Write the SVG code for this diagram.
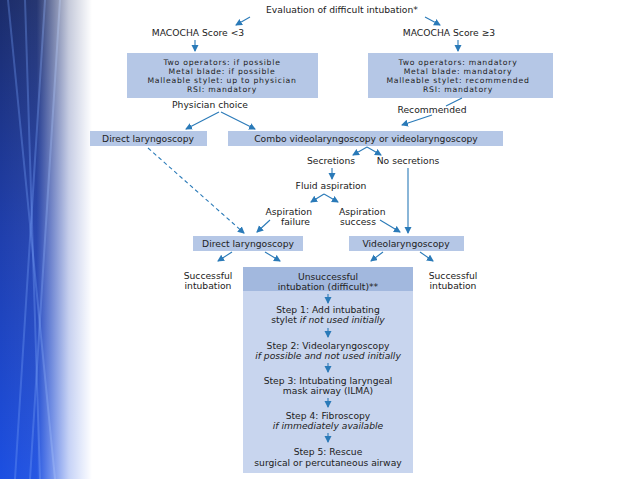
<svg xmlns="http://www.w3.org/2000/svg" width="638" height="479" viewBox="0 0 638 479">
<defs>
<linearGradient id="bgv" x1="0" y1="0" x2="0" y2="1">
<stop offset="0" stop-color="#1b2c6a"/>
<stop offset="0.5" stop-color="#1f3fae"/>
<stop offset="1" stop-color="#1c4fe2"/>
</linearGradient>
<linearGradient id="fade" x1="0" y1="0" x2="1" y2="0">
<stop offset="0" stop-color="#fff" stop-opacity="0"/>
<stop offset="0.4" stop-color="#fff" stop-opacity="0.05"/>
<stop offset="0.75" stop-color="#fff" stop-opacity="0.75"/>
<stop offset="1" stop-color="#fff" stop-opacity="1"/>
</linearGradient>
<marker id="ah" markerUnits="userSpaceOnUse" markerWidth="8" markerHeight="8" refX="6" refY="3.5" orient="auto">
<path d="M0,0 L7,3.5 L0,7 z" fill="#2a7ab8"/>
</marker>
</defs>
<style>
text{font-family:"DejaVu Sans","Liberation Sans",sans-serif;font-size:9.2px;fill:#222;text-anchor:middle}
.bt{font-size:7.7px;letter-spacing:0.75px}
.it{font-style:italic}
.box{fill:#b5c7e6}
.hdr{fill:#a2b8de}
.body{fill:#c8d5ee}
.c{stroke:#2a7ab8;stroke-width:1.1;fill:none;marker-end:url(#ah)}
.d{stroke-dasharray:4,3}
.ln{stroke:#2a7ab8;stroke-width:1.1;fill:none}
</style>
<rect width="638" height="479" fill="#fff"/>
<g id="background">
<rect x="0" y="0" width="92" height="479" fill="url(#bgv)"/>
<g stroke="#6f9cf5" stroke-opacity="0.35" stroke-width="2" fill="none">
<path d="M8,0 L55,479"/>
<path d="M45,0 L15,479"/>
<path d="M25,0 L40,479"/>
<path d="M60,0 L30,479"/>
</g>
<rect x="0" y="0" width="92" height="479" fill="url(#fade)"/>
</g>
<g id="title"><text x="342" y="13">Evaluation of difficult intubation*</text></g>
<g id="mac-lt3"><text x="198" y="36">MACOCHA Score &lt;3</text></g>
<g id="mac-ge3"><text x="449" y="36">MACOCHA Score ≥3</text></g>
<g id="box-left">
<rect class="box" x="127" y="53" width="191" height="45"/>
<text class="bt" x="222" y="65">Two operators: if possible</text>
<text class="bt" x="222" y="74">Metal blade: if possible</text>
<text class="bt" x="222" y="83">Malleable stylet: up to physician</text>
<text class="bt" x="222" y="92">RSI: mandatory</text>
</g>
<g id="box-right">
<rect class="box" x="368" y="53" width="185" height="45"/>
<text class="bt" x="458" y="65">Two operators: mandatory</text>
<text class="bt" x="458" y="74">Metal blade: mandatory</text>
<text class="bt" x="458" y="83">Malleable stylet: recommended</text>
<text class="bt" x="458" y="92">RSI: mandatory</text>
</g>
<g id="physician-choice"><text x="210" y="108">Physician choice</text></g>
<g id="recommended"><text x="432" y="113">Recommended</text></g>
<g id="direct1">
<rect class="box" x="90" y="131" width="117" height="15"/>
<text x="148" y="142">Direct laryngoscopy</text>
</g>
<g id="combo">
<rect class="box" x="228" y="131" width="275" height="15"/>
<text x="366" y="142">Combo videolaryngoscopy or videolaryngoscopy</text>
</g>
<g id="secretions"><text x="331" y="164">Secretions</text></g>
<g id="no-secretions"><text x="408" y="164">No secretions</text></g>
<g id="fluid"><text x="331" y="189">Fluid aspiration</text></g>
<g id="asp-fail"><text x="312" y="215" style="text-anchor:end">Aspiration</text><text x="310" y="225" style="text-anchor:end">failure</text></g>
<g id="asp-succ"><text x="339" y="215" style="text-anchor:start">Aspiration</text><text x="340" y="225" style="text-anchor:start">success</text></g>
<g id="direct2">
<rect class="box" x="193" y="236" width="110" height="15"/>
<text x="248" y="247">Direct laryngoscopy</text>
</g>
<g id="video">
<rect class="box" x="349" y="236" width="115" height="15"/>
<text x="406" y="247">Videolaryngoscopy</text>
</g>
<g id="success-left"><text x="208" y="279">Successful</text><text x="208" y="289">intubation</text></g>
<g id="success-right"><text x="453" y="279">Successful</text><text x="453" y="289">intubation</text></g>
<g id="unsuccessful">
<rect class="body" x="243" y="267" width="170" height="206"/>
<rect class="hdr" x="243" y="267" width="170" height="24"/>
<text x="328" y="280">Unsuccessful</text>
<text x="328" y="290">intubation (difficult)**</text>
<text x="328" y="313">Step 1: Add intubating</text>
<text x="328" y="323">stylet <tspan class="it">if not used initially</tspan></text>
<text x="328" y="349">Step 2: Videolaryngoscopy</text>
<text x="328" y="359" class="it">if possible and not used initially</text>
<text x="328" y="384">Step 3: Intubating laryngeal</text>
<text x="328" y="394">mask airway (ILMA)</text>
<text x="328" y="419">Step 4: Fibroscopy</text>
<text x="328" y="429" class="it">if immediately available</text>
<text x="328" y="455">Step 5: Rescue</text>
<text x="328" y="466">surgical or percutaneous airway</text>
</g>
<g id="connectors">
<path class="c" d="M250,17 L236,25"/>
<path class="c" d="M425,17 L440,25"/>
<path class="c" d="M195,40 L195,51"/>
<path class="c" d="M458,40 L458,51"/>
<path class="c" d="M219,112 L186,129"/>
<path class="c" d="M221,112 L255,129"/>
<path class="ln" d="M462,98 L446,106"/>
<path class="c" d="M432,115 L402,125"/>
<path class="c" d="M367,147 L353,155"/>
<path class="c" d="M367,147 L381,155"/>
<path class="c" d="M332,168 L332,179"/>
<path class="c" d="M408,168 L408,233"/>
<path class="c" d="M324,194 L311,202"/>
<path class="c" d="M324,194 L338,202"/>
<path class="c" d="M270,220 L257,232"/>
<path class="c" d="M380,220 L400,232"/>
<path class="c d" d="M148,148 L244,233"/>
<path class="c" d="M232,252 L218,261"/>
<path class="c" d="M265,252 L280,261"/>
<path class="c" d="M383,252 L371,261"/>
<path class="c" d="M420,252 L433,261"/>
<path class="c" d="M328,294 L328,303"/>
<path class="c" d="M328,328 L328,337"/>
<path class="c" d="M328,363 L328,372"/>
<path class="c" d="M328,398 L328,407"/>
<path class="c" d="M328,433 L328,442"/>
</g>
</svg>
